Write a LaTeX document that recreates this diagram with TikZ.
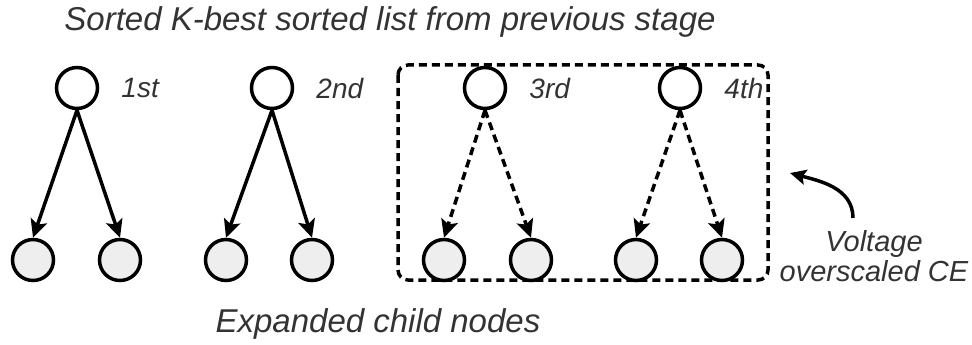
\documentclass[tikz,border=0pt]{standalone}
\usepackage{fontspec}
\setmainfont{Liberation Sans}
\usetikzlibrary{arrows.meta,positioning}
\definecolor{txtgray}{RGB}{51,51,51}
\definecolor{childfill}{RGB}{238,238,238}

\tikzset{
  parentnode/.style={circle, draw, line width=3.5pt, minimum size=41pt, inner sep=0pt, fill=white},
  childnode/.style={parentnode, fill=childfill},
  arr/.style={-{Stealth[length=18pt,width=17pt,inset=4pt]}, line width=3.5pt},
  dasharr/.style={arr, dash pattern=on 8pt off 5pt},
  boxdash/.style={line width=3.5pt, dash pattern=on 8pt off 5pt, rounded corners=10pt},
  lbl/.style={font=\fontsize{28}{30}\selectfont\itshape, text=txtgray, inner sep=0pt},
  biglbl/.style={lbl, font=\fontsize{33}{36}\selectfont\itshape},
}

\begin{document}
\begin{tikzpicture}[x=1pt, y=-1pt]
    \useasboundingbox (0,0) rectangle (972,345);

    % Title
    \node[biglbl] (title) at (390,22) {Sorted K-best sorted list from previous stage};

    % Overscaled part
    \draw[boxdash] (398,65) rectangle (768,280);

    % Parents from previous stage
    \foreach \n/\x/\lab in {p1/77/1st, p2/272/2nd, p3/485/3rd, p4/680/4th} {
        \node[parentnode] (\n) at (\x,88) {};
        \node[lbl, right=22pt of \n] (\n-lab) {\lab};
    }

    % Expanded children
    \foreach \n/\x in {c1-l/33, c1-r/120, c2-l/226, c2-r/312, c3-l/444, c3-r/531, c4-l/636, c4-r/722} {
        \node[childnode] (\n) at (\x,260) {};
    }

    % Expansion arrows
    \foreach \p in {1,2} {
        \draw[arr] (p\p.south) -- (c\p-l.north);
        \draw[arr] (p\p.south) -- (c\p-r.north);
    }
    \foreach \p in {3,4} {
        \draw[dasharr] (p\p.south) -- (c\p-l.north);
        \draw[dasharr] (p\p.south) -- (c\p-r.north);
    }

    \node[biglbl] (expanded) at (378,324) {Expanded child nodes};

    % Voltage overscaled CE
    \node[lbl, align=center, font=\fontsize{29}{30}\selectfont\itshape] (ce) at (874,256) {Voltage\\overscaled CE};
    \coordinate (cebase) at (853,218);
    \coordinate (cetip) at (790,173);
    \draw[arr, -{Stealth[length=16pt,width=15pt,inset=3pt]}] (cebase) to[out=90, in=-15] (cetip);
\end{tikzpicture}
\end{document}
